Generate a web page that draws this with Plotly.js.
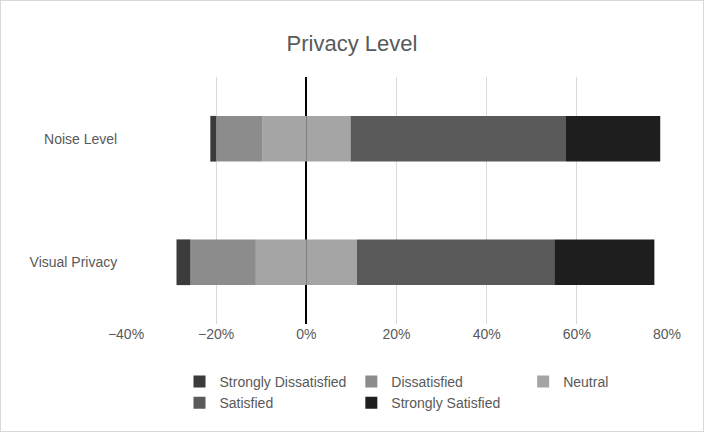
<!DOCTYPE html>
<html>
<head>
<script src="https://cdn.plot.ly/plotly-3.0.1.min.js"></script>
<style>
  body { margin: 0; }
  #chart { width: 702px; height: 430px; border: 1px solid #d9d9d9; }
</style>
</head>
<body>
<div id="chart"></div>
<script>
// values in percent
var categories = ['Visual Privacy', 'Noise Level'];
var stronglyDissatisfied = [3.1, 1.3];
var dissatisfied = [14.5, 10.2];
var neutral = [22.4, 19.6];
var satisfied = [43.8, 47.8];
var stronglySatisfied = [22.2, 20.9];

var colors = {
  sd: '#3b3b3b', d: '#8c8c8c', n: '#a5a5a5', s: '#5a5a5a', ss: '#1e1e1e'
};

function neg(arr) { return arr.map(v => -v); }
function half(arr) { return arr.map(v => v / 2); }

function bar(name, x, color, show, rank) {
  return {
    type: 'bar', orientation: 'h', y: categories, x: x, name: name,
    marker: { color: color }, showlegend: show, legendrank: rank,
    hoverinfo: 'name+x'
  };
}

var data = [
  bar('Neutral', neg(half(neutral)), colors.n, false, 3),
  bar('Dissatisfied', neg(dissatisfied), colors.d, true, 2),
  bar('Strongly Dissatisfied', neg(stronglyDissatisfied), colors.sd, true, 1),
  bar('Neutral', half(neutral), colors.n, true, 3),
  bar('Satisfied', satisfied, colors.s, true, 4),
  bar('Strongly Satisfied', stronglySatisfied, colors.ss, true, 5)
];

var layout = {
  width: 702, height: 430,
  barmode: 'relative', bargap: 0.63,
  font: { family: 'Liberation Sans, Arial, sans-serif', size: 14, color: '#595959' },
  title: { text: 'Privacy Level', font: { size: 22, color: '#595959' }, x: 0.5, y: 0.92 },
  margin: { l: 125, r: 36, t: 76, b: 90 },
  xaxis: {
    range: [-40, 80], dtick: 20, ticksuffix: '%',
    gridcolor: '#d9d9d9', zeroline: true, zerolinecolor: '#000', zerolinewidth: 1.5
  },
  yaxis: { ticksuffix: '  ' },
  legend: { orientation: 'h', x: 0.5, xanchor: 'center', y: -0.17, font: { size: 14 },
            itemwidth: 20, tracegroupgap: 0, traceorder: 'normal' },
  paper_bgcolor: '#fff', plot_bgcolor: '#fff'
};

Plotly.newPlot('chart', data, layout, { displayModeBar: false });
</script>
</body>
</html>
